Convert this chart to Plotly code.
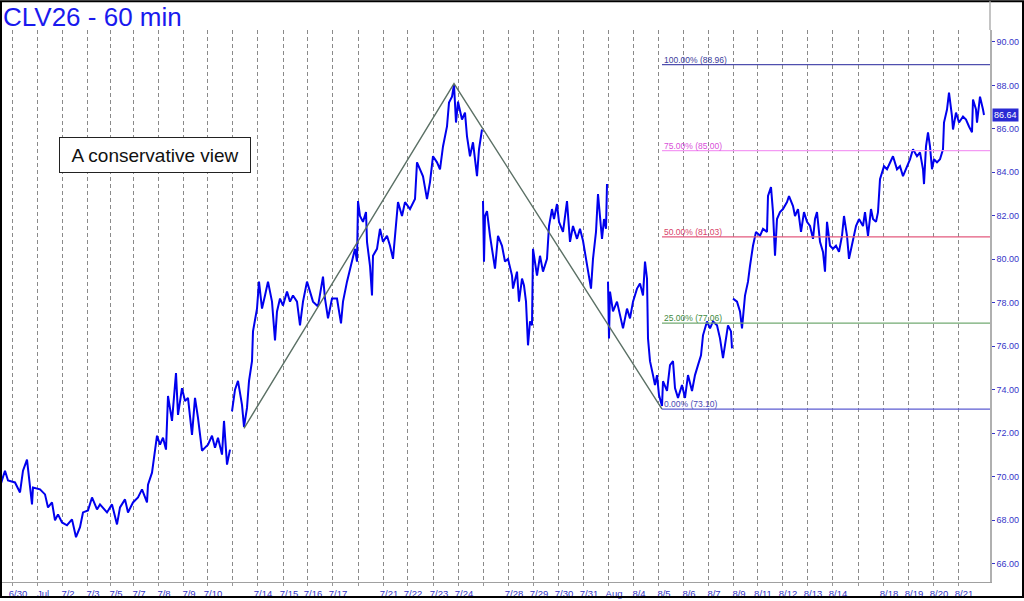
import plotly.graph_objects as go

# hourly bar index (left to right) and closing price, None = weekend gap
bars = [0, 5, 8, 15, 20, 23, 27, 30, 32, 33, 40, 45, 48, 52, 55, 58, 62, 67, 72, 76,
        80, 83, 88, 92, 97, 100, 107, 112, 117, 120, 125, 128, 133, 138, 142, 147, 148,
        152, 155, 157, 160, 163, 166, 167, 168, 172, 176, 178, 182, 185, 188, 192, 195,
        198, 202, 205, 208, 212, 215, 218, 222, 224, 227, 230, 231,
        232, 235, 238, 242, 244, 247, 249, 252, 253, 255, 257, 259, 262, 265, 268, 272,
        275, 277, 280, 283, 287, 290, 293, 297, 300, 303, 307, 310, 313, 318, 323, 325,
        328, 332, 337, 341, 343, 347, 350, 353, 355, 357, 358, 360, 363, 366, 367, 370,
        372, 373, 377, 380, 383, 387, 390, 393, 396, 398, 402, 405, 410, 415, 417, 420,
        423, 427, 430, 433, 437, 440, 443, 447, 449, 452, 454, 456, 458, 462, 465, 467,
        470, 473, 477, 479, 482, 482.5,
        483, 484, 485, 487, 490, 493, 495, 498, 502, 505, 508, 512, 513, 517, 519, 522,
        524, 526, 528, 530, 532, 533, 537, 540, 543, 547, 549, 552, 554, 557, 559, 563,
        567, 570, 573, 577, 580, 583, 586, 588, 591, 593, 596, 598, 600, 602, 604, 606,
        607, 607.5,
        608, 609, 610, 613, 617, 620, 623, 627, 630, 633, 637, 640, 643, 645, 647, 648,
        650, 653, 655, 657, 659, 662, 663, 667, 670, 673, 675, 678, 682, 685, 688, 692,
        695, 698, 701, 703, 707, 710, 713, 717, 720, 723, 726, 728, 731, 732, 732.5,
        733, 737, 740, 742, 745, 748, 750, 753, 756, 760, 763, 767, 768, 771, 773, 775,
        777, 780, 783, 787, 789, 793, 795, 798, 801, 804, 807, 810, 813, 815, 817, 820,
        823, 825, 827, 830, 833, 836, 839, 842, 844, 847, 849, 853, 856, 859, 863, 865,
        868, 871, 873, 876, 878, 880, 882, 884, 887, 890, 893, 897, 900, 903, 907, 910,
        913, 917, 920, 923, 924, 926, 928, 930, 932, 934, 937, 940, 943, 944, 947, 949,
        952, 953, 956, 959, 963, 966, 969, 972, 973, 976, 977, 980, 983, 984]

price = [69.55, 70.27, 69.82, 69.73, 69.27, 70.27, 70.78, 69.63, 68.72, 69.50, 69.41,
         69.18, 68.58, 68.81, 67.99, 68.26, 67.89, 67.76, 68.03, 67.21,
         67.67, 68.35, 68.44, 69.04, 68.49, 68.72, 68.35, 68.72, 67.80, 68.58, 68.95,
         68.35, 68.81, 69.04, 69.41, 68.81, 69.63,
         70.18, 71.33, 71.88, 71.47, 71.79, 71.24, 72.15, 73.71, 72.56, 74.76, 72.84,
         74.07, 73.48, 73.62, 71.92, 73.62,
         72.70, 71.19, 71.33, 71.47, 71.88, 71.33, 71.79, 71.01, 72.56, 70.55, 71.24, None,
         73.00, 74.00, 74.40, 73.30, 72.29, 73.16, 74.39, 75.31, 76.68, 77.14, 77.73,
         78.97, 77.73, 78.33, 78.97, 78.05,
         76.27, 77.60, 78.19, 77.87, 78.51, 78.05, 78.33, 78.05, 76.96, 78.05, 78.97,
         78.51, 78.05, 77.83, 79.20, 78.19,
         77.28, 78.19, 78.19, 77.05, 78.05, 78.97, 79.57, 80.16, 80.48, 79.89, 82.68,
         81.99, 81.72, 82.17, 80.80, 79.70,
         78.33, 80.16, 80.48, 81.40, 80.80, 81.08, 80.62, 80.02, 81.72, 82.63, 81.99,
         82.63, 82.31, 82.77, 84.46, 84.14,
         83.82, 82.77, 83.55, 84.74, 84.46, 84.14, 85.19, 86.11, 87.21, 87.48, 88.03,
         86.29, 87.25, 86.43, 86.75, 85.65,
         84.74, 85.38, 83.82, 85.06, 85.97, None,
         82.68, 79.89, 81.99, 82.22, 81.08, 80.16, 79.57, 81.08, 80.62, 79.89, 80.02,
         79.25, 78.65, 79.43, 78.05, 79.11,
         78.79, 78.05, 76.04, 77.14, 76.96, 80.48, 79.25, 80.16, 79.43, 80.02, 81.53,
         82.31, 81.85, 82.54, 81.72, 81.26,
         82.68, 80.80, 81.53, 80.94, 81.40, 80.85, 80.02, 79.43, 78.65, 80.02, 81.26,
         83.00, 81.99, 80.94, 81.85, 81.40,
         83.46, None,
         78.97, 76.36, 78.51, 77.60, 78.05, 77.41, 76.82, 77.73, 77.28, 78.05, 78.65,
         78.88, 78.33, 79.89, 79.11, 76.36,
         75.31, 74.67, 74.21, 74.67, 73.75, 73.25, 74.39, 73.94, 75.13, 75.31, 74.07,
         73.62, 74.21, 73.62, 74.67, 73.94,
         74.67, 75.13, 75.58, 76.50, 77.14, 76.82, 77.14, 76.96, 76.36, 75.45, 76.36,
         76.96, 76.68, 75.90, None,
         78.19, 78.05, 77.60, 76.82, 78.33, 78.97, 79.70, 80.62, 81.26, 81.08, 81.40,
         81.26, 82.91, 83.32, 82.17, 80.16,
         81.85, 82.17, 82.31, 82.63, 82.91, 82.45, 81.99, 82.31, 81.26, 82.17, 81.72,
         81.53, 80.94, 81.85, 82.17, 80.80,
         80.34, 79.43, 81.72, 80.62, 80.48, 80.62, 80.34, 81.08, 81.99, 81.08, 80.02,
         80.94, 81.53, 81.85, 81.53, 82.17,
         81.08, 82.31, 81.85, 81.72, 82.17, 83.68, 84.00, 84.28, 84.14, 84.46, 84.74,
         84.14, 84.28, 83.82, 84.28, 84.60,
         85.06, 84.74, 84.92, 84.14, 83.46, 85.19, 85.84, 85.19, 84.14, 84.60, 84.46,
         84.60, 85.06, 86.29, 86.89, 87.67,
         86.57, 85.97, 86.75, 86.29, 86.57, 86.43, 86.11, 85.84, 87.35, 86.89, 86.29,
         87.48, 86.89, 86.64]

last_price = 86.64

# a-b-c swing drawn on the chart
zig_bars = [244, 454, 662]
zig_price = [72.22, 88.08, 73.10]

# fib projection levels
fib_pct = ["100.00%", "75.00%", "50.00%", "25.00%", "0.00%"]
fib_level = [88.96, 85.00, 81.03, 77.06, 73.10]
fib_line_col = ["#4f4fae", "#f49af4", "#e35a7e", "#72aa72", "#5c5cd2"]
fib_text_col = ["#3c3c9c", "#d94fd9", "#d8436a", "#3f8c3f", "#4a4ab4"]

# session boundaries and their labels
day_ticks = [12, 37, 62, 87, 110, 133, 158, 183, 207, 232, 257, 283, 307, 332, 358,
             383, 407, 433, 458, 483, 508, 533, 558, 583, 608, 633, 658, 683, 708, 733,
             757, 782, 807, 832, 858, 883, 908, 933, 958]
day_labels = ["6/30", "Jul", "7/2", "7/3", "7/5", "7/7", "7/8", "7/9", "7/10", "",
              "7/14", "7/15", "7/16", "7/17", "", "7/21", "7/22", "7/23", "7/24", "",
              "7/28", "7/29", "7/30", "7/31", "Aug", "8/4", "8/5", "8/6", "8/7", "8/9",
              "8/11", "8/12", "8/13", "8/14", "", "8/18", "8/19", "8/20", "8/21"]

W, H = 1024, 601
M_L, M_R, M_T, M_B = 2, 34, 30, 16
X_RANGE = [2, 990]
Y_RANGE = [65.149, 90.549]
FONT = "Arial, Liberation Sans, sans-serif"
AXIS_BLUE = "#3535c8"

fig = go.Figure()

fig.add_trace(go.Scatter(x=bars, y=price, mode="lines", connectgaps=False,
                         line=dict(color="#0000ee", width=2), hoverinfo="skip"))

fig.add_trace(go.Scatter(x=zig_bars, y=zig_price, mode="lines",
                         line=dict(color="#5b7065", width=1.4), hoverinfo="skip"))

for pct, lvl, lc, tc in zip(fib_pct, fib_level, fib_line_col, fib_text_col):
    fig.add_trace(go.Scatter(x=[zig_bars[-1], X_RANGE[1]], y=[lvl, lvl], mode="lines",
                             line=dict(color=lc, width=1.2), hoverinfo="skip"))
    fig.add_annotation(x=zig_bars[-1], y=lvl, xanchor="left", yanchor="bottom",
                       text=f"{pct} ({lvl:.2f})", showarrow=False, borderpad=0,
                       xshift=1, yshift=-1, font=dict(family=FONT, size=8.5, color=tc))

fig.add_annotation(x=154.5, y=84.78, text="A conservative view", showarrow=False,
                   width=190, height=34, borderpad=0, borderwidth=1, bordercolor="#222",
                   bgcolor="white", font=dict(family=FONT, size=19, color="#111"))

fig.add_annotation(xref="paper", x=1, xanchor="left", xshift=2, y=last_price,
                   text=f"{last_price:.2f}", showarrow=False, bgcolor="#2a2ad4",
                   borderpad=1, font=dict(family=FONT, size=9, color="white"))

# frame and top of the price axis line
pw = W - M_L - M_R
ph = H - M_T - M_B
fig.add_shape(type="rect", xref="paper", yref="paper",
              x0=(1 - M_L) / pw, x1=(W - 1 - M_L) / pw,
              y0=(1 - M_B) / ph, y1=(H - 1 - M_B) / ph,
              line=dict(color="black", width=2), fillcolor="rgba(0,0,0,0)")
fig.add_shape(type="line", xref="paper", yref="paper", x0=1, x1=1, y0=1,
              y1=(H - 1 - M_B) / ph, line=dict(color="#b0b0b0", width=1.5))

# chart title, top-left just inside the frame
fig.add_annotation(xref="paper", yref="paper", x=0, xanchor="left",
                   y=(H - M_B - 1) / ph, yanchor="top", text="CLV26 - 60 min",
                   showarrow=False, borderpad=0,
                   font=dict(family=FONT, size=26, color="#1a1aee"))

fig.update_layout(
    width=W, height=H,
    margin=dict(l=M_L, r=M_R, t=M_T, b=M_B),
    paper_bgcolor="white", plot_bgcolor="white",
    showlegend=False,
)

fig.update_xaxes(range=X_RANGE, tickmode="array", tickvals=day_ticks, ticktext=day_labels,
                 tickangle=0, ticklabelshift=6, ticks="outside", ticklen=3,
                 tickcolor="#999", showgrid=True, gridcolor="#8a8a8a", griddash="4px,3px",
                 gridwidth=1, showline=True, linecolor="#a0a0a0", zeroline=False,
                 tickfont=dict(family=FONT, size=9.5, color=AXIS_BLUE))

fig.update_yaxes(range=Y_RANGE, side="right", tick0=66, dtick=2, tickformat=".2f",
                 ticks="outside", ticklen=3, tickcolor=AXIS_BLUE, showgrid=False,
                 showline=True, linecolor="#b0b0b0", linewidth=1.5, zeroline=False,
                 tickfont=dict(family=FONT, size=9, color=AXIS_BLUE))

# the page body has a default 8px margin; drop it so the chart fills the window
fig.write_html("out.html", config={"displayModeBar": False},
               post_script="document.body.style.margin='0';")
